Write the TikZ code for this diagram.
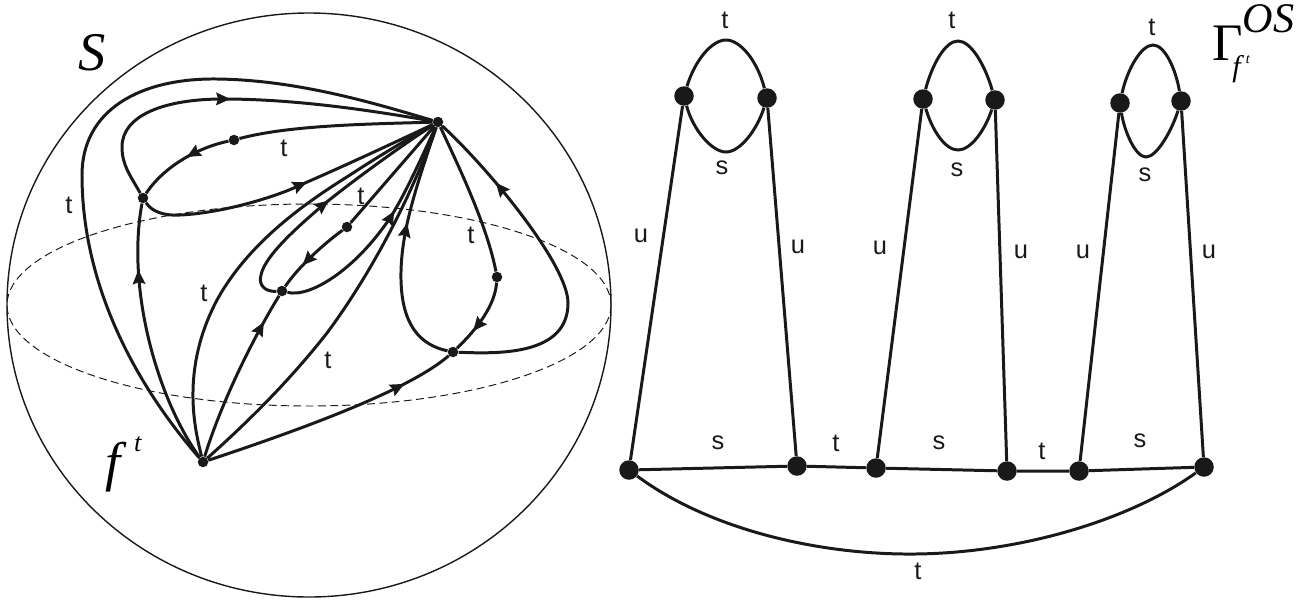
\documentclass[tikz,border=0pt]{standalone}
\usepackage{fontspec}
\setmainfont{Liberation Sans}
\newfontfamily\tnr{Liberation Serif}
\usetikzlibrary{arrows.meta,decorations.markings}

\begin{document}
\begin{tikzpicture}[x=0.02cm,y=-0.02cm,
  smalldot/.style={draw=none, fill=black!90, circle, minimum size=0.21cm, inner sep=0pt},
  bigdot/.style={draw=none, fill=black!90, circle, minimum size=0.39cm, inner sep=0pt},
  edge/.style={line width=1.7pt, black!90},
  flow/.style={line width=1.7pt, black!90, postaction={decorate},
    decoration={markings, mark=at position #1 with {\arrow{Stealth[length=8pt,width=7pt,inset=1pt]}}}},
  lab/.style={inner sep=0pt, font=\fontsize{14.5}{14.5}\selectfont, black!90}]
\useasboundingbox (0,0) rectangle (1300,599);

% sphere
\draw[line width=0.8pt, black!90] (309,305) ellipse [x radius=302, y radius=292];
\draw[line width=0.55pt, dash pattern=on 4.5pt off 2.5pt, black!90] (309,305) ellipse [x radius=302, y radius=101];

\node[smalldot] (hubA) at (438,122) {};
\node[smalldot] (hubB) at (203,462) {};
\node[smalldot] (nA) at (143,198) {};
\node[smalldot] (nB) at (282,291) {};
\node[smalldot] (nC) at (453,352) {};
\node[smalldot] (dotA) at (234,140) {};
\node[smalldot] (dotB) at (347,227) {};
\node[smalldot] (dotC) at (497,277) {};

\draw[edge] (hubB) .. controls (140,390) and (82,290) .. (82,175) .. controls (82,110) and (140,78) .. (217,79) .. controls (300,80) and (380,105) .. (hubA);
\draw[flow=0.47] (nA) .. controls (130,175) and (122,165) .. (122,147) .. controls (122,115) and (165,99) .. (223,99) .. controls (300,99) and (380,112) .. (hubA);
\draw[flow=0.55] (nA) .. controls (152,212) and (165,216) .. (180,215) .. controls (225,213) and (280,195) .. (298,186) .. controls (340,168) and (400,140) .. (hubA);
\draw[edge] (hubA) .. controls (370,124) and (290,125) .. (dotA);
\draw[flow=0.45] (dotA) .. controls (200,147) and (165,165) .. (nA);
\draw[flow=0.75] (hubB) .. controls (158,400) and (126,290) .. (nA);

\draw[edge] (hubA) -- (dotB);
\draw[flow=0.66] (dotB) .. controls (325,243) and (300,265) .. (nB);
\draw[flow=0.83] (hubB) .. controls (222,400) and (255,335) .. (nB);
\draw[flow=0.5] (nB) .. controls (265,292) and (258,285) .. (261,275) .. controls (265,255) and (300,225) .. (323,205) .. controls (360,175) and (410,140) .. (hubA);
\draw[flow=0.6] (nB) .. controls (310,298) and (355,270) .. (390,218) .. controls (405,195) and (425,150) .. (hubA);

\draw[edge] (hubB) .. controls (195,430) and (180,370) .. (217,300) .. controls (250,240) and (310,200) .. (350,175) .. controls (385,152) and (415,135) .. (hubA);
\draw[edge] (hubB) .. controls (250,420) and (290,380) .. (327,333) .. controls (370,275) and (410,200) .. (hubA);

\draw[edge] (hubA) .. controls (458,165) and (487,225) .. (dotC);
\draw[flow=0.7] (dotC) .. controls (495,305) and (478,328) .. (nC);
\draw[flow=0.8] (hubB) .. controls (330,420) and (415,385) .. (nC);
\draw[flow=0.6] (nC) .. controls (420,345) and (402,325) .. (401,280) .. controls (400,235) and (415,190) .. (hubA);
\draw[flow=0.78] (nC) .. controls (500,354) and (568,355) .. (568,303) .. controls (568,265) and (490,170) .. (hubA);

\node[lab] (tA) at (69,205) {t};
\node[lab] (tB) at (284,148) {t};
\node[lab] (tC) at (204,293) {t};
\node[lab] (tD) at (361,196) {t};
\node[lab] (tE) at (328,360) {t};
\node[lab] (tF) at (471,235) {t};
\node[inner sep=0pt, font=\fontsize{31}{31}\selectfont\tnr\itshape] (sphereS) at (92,53) {S};
\node[anchor=base west, inner sep=0pt, font=\fontsize{31}{31}\selectfont\tnr\itshape] (fLabel) at (105,480) {f\kern7.7pt\raisebox{16.3pt}{\fontsize{15}{15}\selectfont t}};

% graph
\node[bigdot] (a1) at (684,96) {};
\node[bigdot] (a2) at (767,98) {};
\node[bigdot] (b1) at (923,99) {};
\node[bigdot] (b2) at (995,100) {};
\node[bigdot] (c1) at (1120,103) {};
\node[bigdot] (c2) at (1181,101) {};
\node[bigdot] (p1) at (629,470) {};
\node[bigdot] (p2) at (797,466) {};
\node[bigdot] (p3) at (876,468) {};
\node[bigdot] (p4) at (1007,471) {};
\node[bigdot] (p5) at (1079,471) {};
\node[bigdot] (p6) at (1204,467) {};

\draw[edge] (p1) -- (a1);
\draw[edge] (p2) -- (a2);
\draw[edge] (p3) -- (b1);
\draw[edge] (p4) -- (b2);
\draw[edge] (p5) -- (c1);
\draw[edge] (p6) -- (c2);
\draw[edge] (p1) -- (p2) -- (p3) -- (p4) -- (p5) -- (p6);
\draw[edge] (p1) .. controls (710,530) and (820,555) .. (915,554) .. controls (1020,553) and (1130,520) .. (p6);

\draw[edge] (a1) .. controls (695,60) and (712,40) .. (726,40) .. controls (740,40) and (757,60) .. (a2);
\draw[edge] (a1) .. controls (693,130) and (712,152) .. (726,152) .. controls (740,152) and (757,130) .. (a2);
\draw[edge] (b1) .. controls (932,65) and (945,41) .. (958,41) .. controls (971,41) and (985,65) .. (b2);
\draw[edge] (b1) .. controls (932,130) and (945,150) .. (958,150) .. controls (971,150) and (985,130) .. (b2);
\draw[edge] (c1) .. controls (1127,70) and (1141,45) .. (1153,45) .. controls (1165,45) and (1176,70) .. (c2);
\draw[edge] (c1) .. controls (1124,130) and (1135,157) .. (1146,157) .. controls (1157,157) and (1172,130) .. (c2);

\node[lab] (t1) at (725,20) {t};
\node[lab] (s1) at (722,168) {s};
\node[lab] (u1) at (641,236) {u};
\node[lab] (u2) at (798,247) {u};
\node[lab] (t2) at (952,20) {t};
\node[lab] (s2) at (957,170) {s};
\node[lab] (u3) at (880,248) {u};
\node[lab] (u4) at (1021,252) {u};
\node[lab] (t3) at (1152,27) {t};
\node[lab] (s3) at (1145,175) {s};
\node[lab] (u5) at (1083,252) {u};
\node[lab] (u6) at (1209,252) {u};
\node[lab] (s4) at (718,443) {s};
\node[lab] (t4) at (836,443) {t};
\node[lab] (s5) at (939,443) {s};
\node[lab] (t5) at (1042,451) {t};
\node[lab] (s6) at (1140,441) {s};
\node[lab] (t6) at (918,571) {t};

\node[anchor=base west, inner sep=0pt, font=\fontsize{30}{30}\selectfont\tnr] (gammaLabel) at (1212,60) {Γ\rlap{\kern-6pt\raisebox{-9.5pt}{\fontsize{17}{17}\selectfont\itshape f\kern3pt\raisebox{7.6pt}{\fontsize{8}{8}\selectfont t}}}\raisebox{15.4pt}{\fontsize{24}{24}\selectfont\itshape OS}};
\end{tikzpicture}
\end{document}
